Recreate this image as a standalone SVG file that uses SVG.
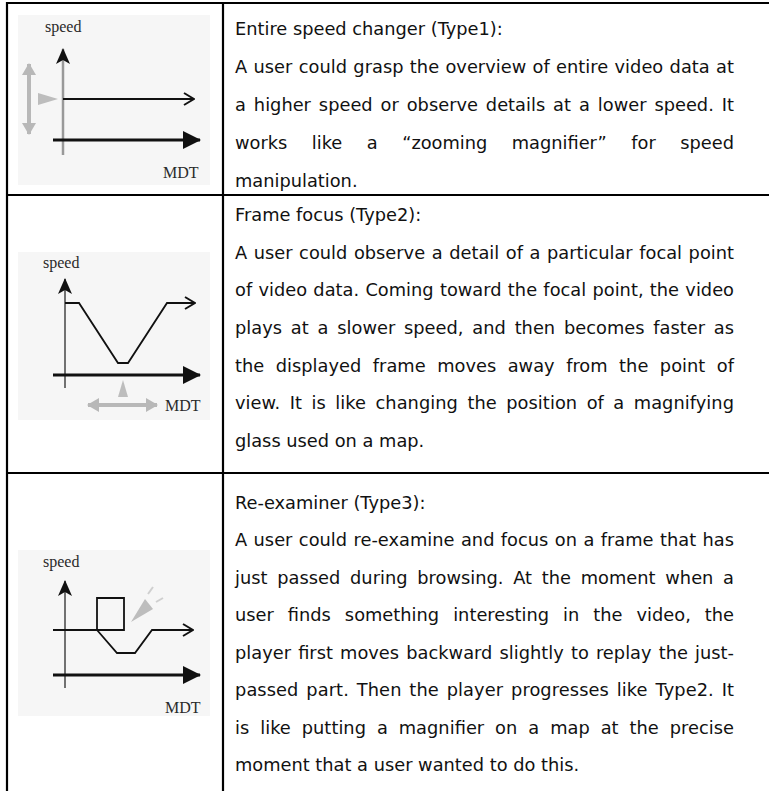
<svg xmlns="http://www.w3.org/2000/svg" width="769" height="791" viewBox="0 0 769 791">
<defs>
<style>
.t{font-family:"DejaVu Sans",Verdana,sans-serif;font-size:17.8px;fill:#111}
.lbl{font-family:"Liberation Serif","Times New Roman",serif;font-size:16px;fill:#2a2a2a}
.grid{stroke:#000;stroke-width:2.2;fill:none}
.spd{stroke:#111;stroke-width:1.8;fill:none;stroke-linejoin:miter}
.mdt{stroke:#111;stroke-width:3;fill:none}
.ax1{stroke:#999;stroke-width:2.5}
.ax{stroke:#444;stroke-width:1.5}
.gr{stroke:#b8b8b8;stroke-width:4;fill:none}
.gf{fill:#bdbdbd}
.bg{fill:#f6f6f6}
</style>
<marker id="open" viewBox="0 0 12 14" refX="11" refY="7" markerWidth="12" markerHeight="14" markerUnits="userSpaceOnUse" orient="auto"><path d="M1,1 L11,7 L1,13" fill="none" stroke="#111" stroke-width="2"/></marker>
<marker id="tri" viewBox="0 0 18 18" refX="17" refY="9" markerWidth="18" markerHeight="18" markerUnits="userSpaceOnUse" orient="auto"><path d="M0,0 L18,9 L0,18 z" fill="#111"/></marker>
<marker id="gtri" viewBox="0 0 12 14" refX="11" refY="7" markerWidth="12" markerHeight="14" markerUnits="userSpaceOnUse" orient="auto-start-reverse"><path d="M0,0 L12,7 L0,14 z" fill="#b8b8b8"/></marker>
<marker id="stealth" viewBox="0 0 16 14" refX="15" refY="7" markerWidth="16" markerHeight="14" markerUnits="userSpaceOnUse" orient="auto"><path d="M0,0 L16,7 L0,14 L4,7 z" fill="#111"/></marker>
</defs>
<rect width="769" height="791" fill="#fff"/>

<g id="table-lines" class="grid">
<line x1="6" y1="3" x2="769" y2="3"/>
<line x1="7" y1="2" x2="7" y2="791"/>
<line x1="223" y1="2" x2="223" y2="791"/>
<line x1="6" y1="195" x2="769" y2="195"/>
<line x1="6" y1="473" x2="769" y2="473"/>
</g>

<g id="figure-type1">
<rect class="bg" x="18" y="15" width="192" height="170"/>
<text class="lbl" x="45" y="32">speed</text>
<line class="ax1" x1="63" y1="155" x2="63" y2="49" marker-end="url(#stealth)"/>
<line class="spd" x1="63" y1="99" x2="194" y2="99" marker-end="url(#open)"/>
<line class="mdt" x1="53" y1="140" x2="200" y2="140" marker-end="url(#tri)"/>
<line class="gr" x1="29" y1="64" x2="29" y2="134" marker-start="url(#gtri)" marker-end="url(#gtri)"/>
<polygon class="gf" points="38,93 58,99 38,105"/>
<text class="lbl" x="163" y="178">MDT</text>
</g>

<g id="text-type1" class="t">
<text x="235" y="35">Entire speed changer (Type1):</text>
<text x="235" y="73" word-spacing="0.7" textLength="499" lengthAdjust="spacing">A user could grasp the overview of entire video data at</text>
<text x="235" y="111" word-spacing="2.28" textLength="499" lengthAdjust="spacing">a higher speed or observe details at a lower speed. It</text>
<text x="235" y="149" word-spacing="18.9" textLength="499" lengthAdjust="spacing">works like a “zooming magnifier” for speed</text>
<text x="235" y="187">manipulation.</text>
</g>

<g id="figure-type2">
<rect class="bg" x="18" y="252" width="192" height="168"/>
<text class="lbl" x="43" y="268">speed</text>
<line class="ax" x1="65" y1="388" x2="65" y2="279" marker-end="url(#stealth)"/>
<polyline class="spd" points="65,303 79,303 118,363 128,363 167,303 195,303" marker-end="url(#open)"/>
<line class="mdt" x1="53" y1="375" x2="200" y2="375" marker-end="url(#tri)"/>
<polygon class="gf" points="123,380 118,397 128,397"/>
<line class="gr" x1="88" y1="405" x2="157" y2="405" marker-start="url(#gtri)" marker-end="url(#gtri)"/>
<text class="lbl" x="165" y="411">MDT</text>
</g>

<g id="text-type2" class="t">
<text x="235" y="221">Frame focus (Type2):</text>
<text x="235" y="259" word-spacing="0.9" textLength="499" lengthAdjust="spacing">A user could observe a detail of a particular focal point</text>
<text x="235" y="296" word-spacing="0.6" textLength="499" lengthAdjust="spacing">of video data. Coming toward the focal point, the video</text>
<text x="235" y="334" word-spacing="3.17" textLength="499" lengthAdjust="spacing">plays at a slower speed, and then becomes faster as</text>
<text x="235" y="372" word-spacing="5.85" textLength="499" lengthAdjust="spacing">the displayed frame moves away from the point of</text>
<text x="235" y="409" word-spacing="3.75" textLength="499" lengthAdjust="spacing">view. It is like changing the position of a magnifying</text>
<text x="235" y="447">glass used on a map.</text>
</g>

<g id="figure-type3">
<rect class="bg" x="18" y="550" width="192" height="166"/>
<text class="lbl" x="43" y="567">speed</text>
<line class="ax" x1="65" y1="688" x2="65" y2="581" marker-end="url(#stealth)"/>
<polyline class="spd" points="53,630 124,630 124,598 97,598 97,630 117,653 135,653 152,630 193,630" marker-end="url(#open)"/>
<line class="mdt" x1="53" y1="675" x2="200" y2="675" marker-end="url(#tri)"/>
<polygon class="gf" points="131,622 145,599 153,609"/>
<line x1="148" y1="594" x2="153" y2="587" stroke="#cfcfcf" stroke-width="2"/>
<line x1="156" y1="602" x2="163" y2="598" stroke="#cfcfcf" stroke-width="2"/>
<text class="lbl" x="165" y="713">MDT</text>
</g>

<g id="text-type3" class="t">
<text x="235" y="509">Re-examiner (Type3):</text>
<text x="235" y="546" word-spacing="0.71" textLength="499" lengthAdjust="spacing">A user could re-examine and focus on a frame that has</text>
<text x="235" y="584" word-spacing="4.0" textLength="499" lengthAdjust="spacing">just passed during browsing. At the moment when a</text>
<text x="235" y="621" word-spacing="8.3" textLength="499" lengthAdjust="spacing">user finds something interesting in the video, the</text>
<text x="235" y="659" word-spacing="1.43" textLength="499" lengthAdjust="spacing">player first moves backward slightly to replay the just-</text>
<text x="235" y="696" word-spacing="2.14" textLength="499" lengthAdjust="spacing">passed part. Then the player progresses like Type2. It</text>
<text x="235" y="734" word-spacing="5.25" textLength="499" lengthAdjust="spacing">is like putting a magnifier on a map at the precise</text>
<text x="235" y="771">moment that a user wanted to do this.</text>
</g>
</svg>
